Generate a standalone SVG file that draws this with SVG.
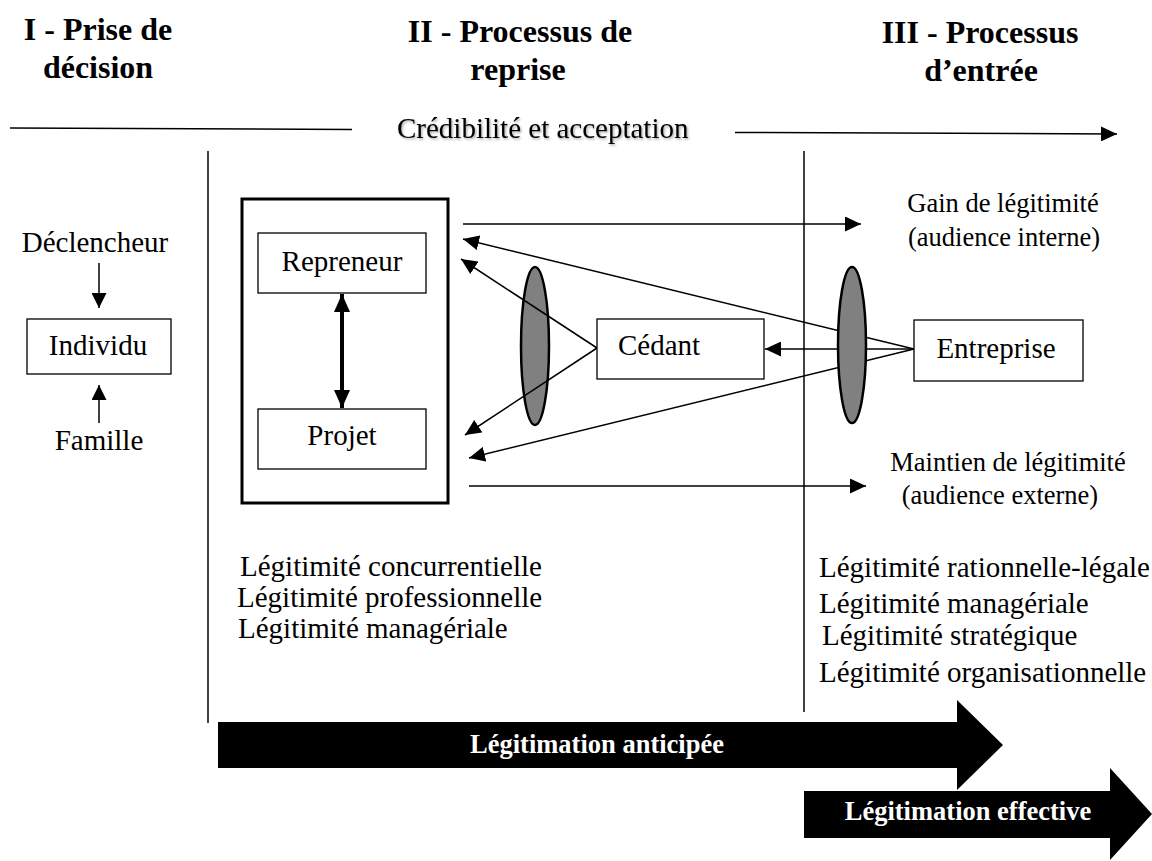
<svg xmlns="http://www.w3.org/2000/svg" width="1152" height="861" viewBox="0 0 1152 861">
  <style>
    .t { font-family: "Liberation Serif", "Times New Roman", serif; font-size: 29px; fill: #000; }
    .s { font-family: "Liberation Serif", "Times New Roman", serif; font-size: 26.5px; fill: #000; }
    .h { font-family: "Liberation Serif", "Times New Roman", serif; font-size: 32px; font-weight: bold; fill: #000; }
    .w { font-family: "Liberation Serif", "Times New Roman", serif; font-size: 26.5px; font-weight: bold; fill: #fff; }
    .box { fill: #fff; stroke: #000; stroke-width: 1.3; }
    .ln { stroke: #000; stroke-width: 1.5; fill: none; }
    .ell { fill: #808080; stroke: #000; stroke-width: 2.5; }
  </style>
  <defs>
    <marker id="ah" markerUnits="userSpaceOnUse" markerWidth="16" markerHeight="15" refX="16" refY="7.5" orient="auto">
      <path d="M0,0 L16,7.5 L0,15 z" fill="#000"/>
    </marker>
    <marker id="ahs" markerUnits="userSpaceOnUse" markerWidth="15" markerHeight="15" refX="15" refY="7.5" orient="auto">
      <path d="M0,0 L15,7.5 L0,15 z" fill="#000"/>
    </marker>
    <marker id="ahb" markerUnits="userSpaceOnUse" markerWidth="18" markerHeight="16" refX="18" refY="8" orient="auto-start-reverse">
      <path d="M0,0 L18,8 L0,16 z" fill="#000"/>
    </marker>
    <filter id="shadow" x="-5%" y="-20%" width="110%" height="150%">
      <feDropShadow dx="1.2" dy="1.5" stdDeviation="0.8" flood-color="#000" flood-opacity="0.35"/>
    </filter>
  </defs>

  <!-- headers -->
  <g id="header1">
    <text class="h" x="98" y="40" text-anchor="middle">I - Prise de</text>
    <text class="h" x="98" y="78" text-anchor="middle">décision</text>
  </g>
  <g id="header2">
    <text class="h" x="520" y="42" text-anchor="middle">II - Processus de</text>
    <text class="h" x="518" y="80" text-anchor="middle">reprise</text>
  </g>
  <g id="header3">
    <text class="h" x="980" y="43" text-anchor="middle">III - Processus</text>
    <text class="h" x="981" y="81" text-anchor="middle">d’entrée</text>
  </g>

  <!-- top axis -->
  <g id="credibilite">
    <line class="ln" x1="10" y1="128" x2="352" y2="129.5"/>
    <text class="t" x="397" y="138" filter="url(#shadow)">Crédibilité et acceptation</text>
    <line class="ln" x1="735" y1="132.5" x2="1117" y2="134" marker-end="url(#ah)"/>
  </g>

  <!-- phase separators -->
  <g id="separators">
    <line class="ln" x1="208" y1="151" x2="208" y2="723" stroke-width="1.3"/>
    <line class="ln" x1="804" y1="151" x2="804" y2="712" stroke-width="1.3"/>
  </g>

  <!-- left column -->
  <g id="declencheur">
    <text class="t" x="95" y="252" text-anchor="middle">Déclencheur</text>
  </g>
  <g id="individu">
    <rect class="box" x="27" y="319" width="144" height="55"/>
    <text class="t" x="98" y="355" text-anchor="middle">Individu</text>
  </g>
  <g id="famille">
    <text class="t" x="99" y="450" text-anchor="middle">Famille</text>
  </g>

  <!-- left ellipse (under connectors) -->
  <g id="filtre-gauche">
    <ellipse class="ell" cx="535" cy="346" rx="14" ry="79"/>
  </g>

  <!-- connectors -->
  <g id="connectors">
    <line class="ln" x1="99" y1="263" x2="99" y2="308" marker-end="url(#ahs)"/>
    <line class="ln" x1="99" y1="423" x2="99" y2="385" marker-end="url(#ahs)"/>
    <line x1="342" y1="294" x2="342" y2="408" stroke="#000" stroke-width="4" marker-start="url(#ahb)" marker-end="url(#ahb)"/>
    <line class="ln" x1="463" y1="224" x2="861" y2="224" marker-end="url(#ah)"/>
    <line class="ln" x1="469" y1="486" x2="866" y2="486" marker-end="url(#ah)"/>
    <line class="ln" x1="597" y1="348" x2="461" y2="259" marker-end="url(#ah)"/>
    <line class="ln" x1="597" y1="348" x2="465" y2="435" marker-end="url(#ah)"/>
    <line class="ln" x1="914" y1="349" x2="463" y2="239" marker-end="url(#ah)"/>
    <line class="ln" x1="914" y1="349" x2="469" y2="458" marker-end="url(#ah)"/>
    <line class="ln" x1="914" y1="349" x2="765" y2="349" marker-end="url(#ah)"/>
  </g>

  <!-- right ellipse (over connectors) -->
  <g id="filtre-droite">
    <ellipse class="ell" cx="852" cy="345" rx="14" ry="78"/>
  </g>

  <!-- repreneur / projet container -->
  <g id="cadre-repreneur">
    <rect x="242" y="199" width="206" height="304" fill="none" stroke="#000" stroke-width="3"/>
  </g>
  <g id="repreneur">
    <rect class="box" x="258" y="233" width="168" height="60"/>
    <text class="t" x="342" y="271" text-anchor="middle">Repreneur</text>
  </g>
  <g id="projet">
    <rect class="box" x="258" y="409" width="168" height="60"/>
    <text class="t" x="342" y="445" text-anchor="middle">Projet</text>
  </g>
  <g id="cedant">
    <rect class="box" x="597" y="319" width="167" height="60"/>
    <text class="t" x="618" y="355">Cédant</text>
  </g>
  <g id="entreprise">
    <rect class="box" x="914" y="320" width="169" height="61"/>
    <text class="t" x="996" y="358" text-anchor="middle">Entreprise</text>
  </g>

  <!-- right labels -->
  <g id="gain">
    <text class="s" x="1003" y="212" text-anchor="middle">Gain de légitimité</text>
    <text class="s" x="1004" y="246" text-anchor="middle">(audience interne)</text>
  </g>
  <g id="maintien">
    <text class="s" x="1008" y="471" text-anchor="middle">Maintien de légitimité</text>
    <text class="s" x="1000" y="504" text-anchor="middle">(audience externe)</text>
  </g>

  <!-- legitimacy lists -->
  <g id="liste-reprise">
    <text class="t" x="240" y="576">Légitimité concurrentielle</text>
    <text class="t" x="237" y="607">Légitimité professionnelle</text>
    <text class="t" x="238" y="638">Légitimité managériale</text>
  </g>
  <g id="liste-entree">
    <text class="t" x="819" y="577">Légitimité rationnelle-légale</text>
    <text class="t" x="819" y="613">Légitimité managériale</text>
    <text class="t" x="822" y="645">Légitimité stratégique</text>
    <text class="t" x="819" y="682">Légitimité organisationnelle</text>
  </g>

  <!-- big arrows -->
  <g id="legitimation-anticipee">
    <polygon points="218,722 957,722 957,700 1003,745 957,790 957,768 218,768" fill="#000"/>
    <text class="w" x="597" y="753" text-anchor="middle">Légitimation anticipée</text>
  </g>
  <g id="legitimation-effective">
    <polygon points="804,791 1110,791 1110,768 1152,814 1110,860 1110,838 804,838" fill="#000"/>
    <text class="w" x="968" y="820" text-anchor="middle">Légitimation effective</text>
  </g>
</svg>
